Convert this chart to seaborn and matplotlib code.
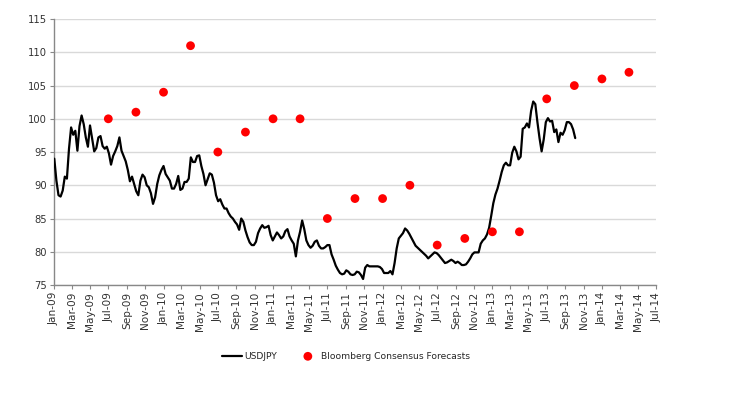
import numpy as np
import pandas as pd
import matplotlib
matplotlib.use("Agg")
import matplotlib.pyplot as plt
import matplotlib.dates as mdates
from matplotlib import font_manager
import seaborn as sns

# USDJPY weekly closes, starting first week of Jan 2009
usdjpy_start = "2009-01-02"
usdjpy_values = [
    94.0, 90.7, 88.5, 88.3, 89.2, 91.3, 91.0, 95.5, 98.7, 97.6,
    98.2, 95.2, 98.9, 100.5, 99.2, 97.2, 95.8, 99.0, 97.0, 95.1,
    95.6, 97.2, 97.4, 95.9, 95.5, 95.8, 94.8, 93.1, 94.4, 95.1,
    95.9, 97.2, 95.2, 94.4, 93.6, 92.3, 90.6, 91.3, 90.2, 89.1,
    88.5, 90.7, 91.6, 91.2, 90.0, 89.7, 88.8, 87.2, 88.2, 90.2,
    91.5, 92.3, 92.9, 91.7, 91.2, 90.7, 89.5, 89.5, 90.2, 91.4,
    89.3, 89.5, 90.5, 90.5, 91.0, 94.2, 93.5, 93.5, 94.4, 94.5,
    92.9, 91.7, 90.0, 90.9, 91.8, 91.6, 90.4, 88.5, 87.6, 87.9,
    87.1, 86.5, 86.5, 85.8, 85.3, 85.0, 84.5, 84.1, 83.3, 85.0,
    84.5, 83.2, 82.2, 81.4, 81.0, 81.0, 81.5, 82.8, 83.5, 84.0,
    83.6, 83.7, 83.9, 82.5, 81.7, 82.3, 82.9, 82.5, 82.0, 82.3,
    83.1, 83.4, 82.3, 81.7, 81.2, 79.3, 81.7, 83.0, 84.7, 83.4,
    81.7, 81.0, 80.6, 80.9, 81.5, 81.7, 80.9, 80.5, 80.5, 80.7,
    81.0, 81.0, 79.6, 78.8, 77.9, 77.3, 76.8, 76.6, 76.7, 77.2,
    77.0, 76.6, 76.5, 76.6, 77.0, 76.9, 76.5, 75.9, 77.6, 78.0,
    77.8, 77.8, 77.8, 77.8, 77.8, 77.7, 77.4, 76.8, 76.8, 76.8,
    77.1, 76.6, 78.3, 80.5, 82.0, 82.4, 82.8, 83.5, 83.2, 82.7,
    82.1, 81.5, 80.9, 80.6, 80.3, 80.0, 79.7, 79.4, 79.0, 79.3,
    79.6, 79.9, 79.8, 79.5, 79.1, 78.7, 78.3, 78.4, 78.6, 78.8,
    78.6, 78.3, 78.5, 78.3, 78.0, 78.0, 78.1, 78.5, 79.0, 79.6,
    79.9, 79.9, 79.9, 81.2, 81.7, 82.0, 82.6, 83.6, 85.4, 87.3,
    88.6, 89.5, 90.7, 92.0, 93.0, 93.4, 93.0, 93.0, 94.9, 95.8,
    95.1, 93.9, 94.3, 98.5, 98.7, 99.3, 98.7, 101.2, 102.6, 102.2,
    99.5, 97.1, 95.1, 96.9, 99.5, 100.1, 99.6, 99.7, 98.0, 98.4,
    96.5, 97.9, 97.6, 98.3, 99.5, 99.5, 99.2, 98.4, 97.1,
]

# Bloomberg consensus forecasts
forecast_dates = [
    "2009-07-01", "2009-10-01", "2010-01-01", "2010-04-01", "2010-07-01",
    "2010-10-01", "2011-01-01", "2011-04-01", "2011-07-01", "2011-10-01",
    "2012-01-01", "2012-04-01", "2012-07-01", "2012-10-01", "2013-01-01",
    "2013-04-01", "2013-07-01", "2013-10-01", "2014-01-01", "2014-04-01",
]
forecast_values = [
    100, 101, 104, 111, 95,
    98, 100, 100, 85, 88,
    88, 90, 81, 82, 83,
    83, 103, 105, 106, 107,
]

y_ticks = [75, 80, 85, 90, 95, 100, 105, 110, 115]
x_start, x_end = "2009-01-01", "2014-07-01"

line_df = pd.DataFrame({
    "date": pd.date_range(usdjpy_start, periods=len(usdjpy_values), freq="7D"),
    "value": usdjpy_values,
    "series": "USDJPY",
})
fc_df = pd.DataFrame({
    "date": pd.to_datetime(forecast_dates),
    "value": forecast_values,
    "series": "Bloomberg Consensus Forecasts",
})

sns.set_theme(style="white")
plt.rcParams["font.family"] = ["DejaVu Sans"]

# pick a narrow font for the legend if available
available = {f.name for f in font_manager.fontManager.ttflist}
legend_family = "DejaVu Sans"
legend_stretch = "normal"
for cand in ["Liberation Sans Narrow", "DejaVu Sans Condensed"]:
    if cand in available:
        legend_family = cand
        break
legend_size = 7.5 if legend_family != "DejaVu Sans" else 6.6

fig = plt.figure(figsize=(7.5, 3.98), dpi=100)
ax = fig.add_axes([0.072, 0.284, 0.803, 0.668])

sns.lineplot(data=line_df, x="date", y="value", color="black", linewidth=1.6,
             ax=ax, label="USDJPY", zorder=3)
sns.scatterplot(data=fc_df, x="date", y="value", color="#ff0000", s=40,
                edgecolor="none", ax=ax, label="Bloomberg Consensus Forecasts",
                zorder=4)

ax.set_xlim(pd.Timestamp(x_start), pd.Timestamp(x_end))
ax.set_ylim(75, 115)
ax.set_yticks(y_ticks)
ax.set_yticklabels([str(v) for v in y_ticks], fontsize=7.2, color="#333333")
ax.xaxis.set_major_locator(mdates.MonthLocator(bymonth=[1, 3, 5, 7, 9, 11]))
ax.xaxis.set_major_formatter(mdates.DateFormatter("%b-%y"))
for lbl in ax.get_xticklabels():
    lbl.set_rotation(90)
    lbl.set_fontsize(7.6)
    lbl.set_color("#333333")
ax.set_xlabel("")
ax.set_ylabel("")

ax.yaxis.grid(True, color="#d9d9d9", linewidth=1.0)
ax.xaxis.grid(False)
ax.set_axisbelow(True)
for side in ["top", "right"]:
    ax.spines[side].set_visible(False)
for side in ["left", "bottom"]:
    ax.spines[side].set_color("#888888")
    ax.spines[side].set_linewidth(1.0)
ax.tick_params(axis="both", which="major", direction="out", length=3,
               width=0.8, color="#888888", pad=2, bottom=True, left=True)

handles, labels = ax.get_legend_handles_labels()
ax.legend_.remove()
fig.legend(handles, labels, loc="center", bbox_to_anchor=(0.461, 0.105),
           ncol=2, frameon=False, handlelength=2.2,
           columnspacing=2.2, handletextpad=0.3,
           prop={"family": legend_family, "size": legend_size})

fig.savefig("out.png", dpi=100, facecolor="white")
